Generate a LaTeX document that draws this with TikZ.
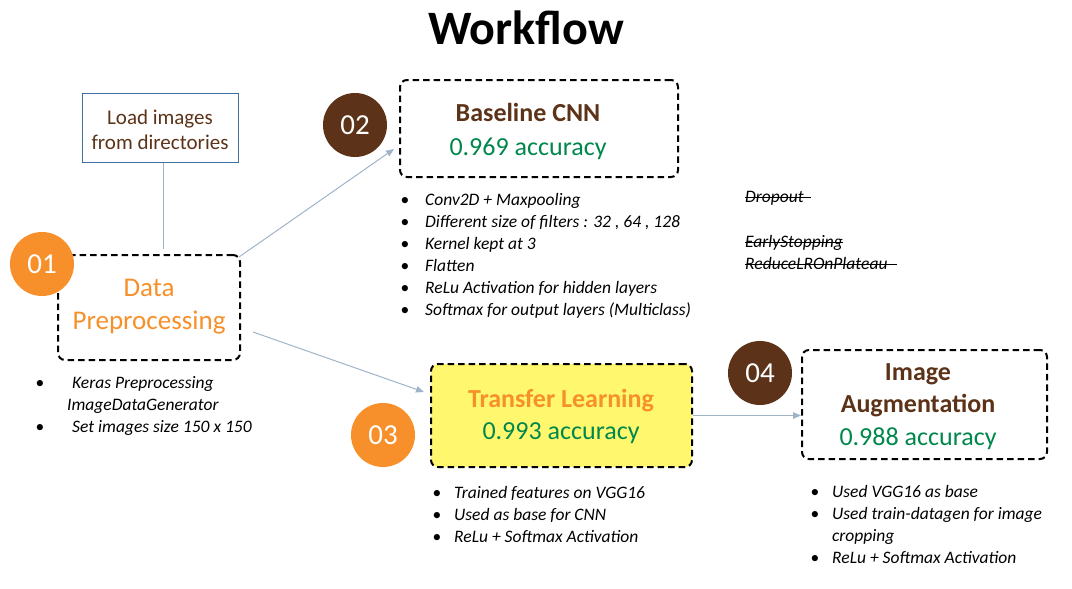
\documentclass[tikz,border=0pt]{standalone}
\usepackage{fontspec}
\setmainfont{Carlito}
\usetikzlibrary{arrows.meta,calc}
\definecolor{wforange}{HTML}{F7902A}
\definecolor{wfbrown}{HTML}{5C3318}
\definecolor{wfgreen}{HTML}{00874C}
\definecolor{wfyellow}{HTML}{FFF86E}
\definecolor{wfconn}{HTML}{A0B4C8}
\definecolor{wfblue}{HTML}{41719C}
\newcommand\bl[1]{\makebox[#1][l]{\upshape •}}
\newlength\wfstw
\newcommand\wfstrike[2][0pt]{\settowidth\wfstw{#2}\addtolength\wfstw{#1}\rlap{\rule[0.24em]{\wfstw}{1.1pt}}#2}
\begin{document}
\begin{tikzpicture}[x=1pt,y=-1pt,
  dbox/.style={draw=black, line width=2pt, dash pattern=on 6.5pt off 4pt, rounded corners=7pt, inner sep=0pt},
  numc/.style={circle, minimum size=64pt, inner sep=0pt, text=white, font=\fontsize{29pt}{29pt}\selectfont},
  boxtxt/.style={align=center, inner sep=0pt},
  conn/.style={draw=wfconn, line width=1pt, -{Triangle[length=8pt,width=6.5pt]}},
  plainline/.style={draw=wfconn, line width=1pt},
  blist/.style={align=left, anchor=base west, inner sep=0pt, font=\fontsize{17.5pt}{22pt}\selectfont\itshape},
]
\useasboundingbox (0,0) rectangle (1072,589);

% title
\node[font=\fontsize{48pt}{48pt}\selectfont\bfseries] (title) at (526,28) {Workflow};

% load box
\node[draw=wfblue, line width=1pt, minimum width=156pt, minimum height=69pt, inner sep=0pt] (load) at (160,127.5) {};
\node[boxtxt, text=wfbrown, font=\fontsize{21pt}{25pt}\selectfont] (loadt) at (160,130) {Load images\\from directories};

% boxes
\node[dbox, minimum width=182pt, minimum height=105pt] (dp) at (149,307.5) {};
\node[boxtxt, text=wforange, font=\fontsize{27pt}{33pt}\selectfont] (dpt) at (149,307) {Data\\Preprocessing};

\node[dbox, minimum width=278pt, minimum height=97pt] (b2) at (539,128.5) {};
\node[boxtxt, font=\fontsize{26pt}{34pt}\selectfont] (b2t) at (528,131.5)
  {{\bfseries\color{wfbrown}Baseline CNN}\\{\color{wfgreen}0.969 accuracy}};

\node[dbox, fill=wfyellow, minimum width=261pt, minimum height=103pt] (b3) at (561.5,415.5) {};
\node[boxtxt, font=\fontsize{26pt}{32pt}\selectfont] (b3t) at (561,416)
  {{\bfseries\color{wforange}Transfer Learning}\\{\color{wfgreen}0.993 accuracy}};

\node[dbox, minimum width=245pt, minimum height=109pt] (b4) at (924.5,404.5) {};
\node[boxtxt, font=\fontsize{26pt}{32.5pt}\selectfont] (b4t) at (918,406.5)
  {{\bfseries\color{wfbrown}Image}\\{\bfseries\color{wfbrown}Augmentation}\\{\color{wfgreen}0.988 accuracy}};

% number circles
\node[numc, fill=wforange] (c1) at (42,264) {01};
\node[numc, fill=wfbrown] (c2) at (355,125) {02};
\node[numc, fill=wforange] (c3) at (383,435) {03};
\node[numc, fill=wfbrown] (c4) at (760,373) {04};

% connectors
\draw[plainline, shorten >=5pt] ([xshift=3.5pt]load.south) -- ([xshift=3.5pt]load.south |- dp.north);
\draw[conn] ([xshift=-2pt,yshift=-3pt]dp.north east) -- ([xshift=-5pt,yshift=-20.5pt]b2.west);
\draw[conn] ([xshift=12pt,yshift=-24.5pt]dp.east) -- ([xshift=-6pt,yshift=23.5pt]b3.west);
\draw[conn] (b3.east) -- (b3.east -| b4.west);

% bullet lists (anchor = baseline of last line)
\node[blist] (l1) at (35.5,432)
  {\bl{36.5pt}Keras Preprocessing\\\hspace*{31.5pt}ImageDataGenerator\\\bl{36.5pt}Set images size 150 x 150};
\node[blist] (l2) at (400.5,315)
  {\bl{24.5pt}Conv2D + Maxpooling\\\bl{24.5pt}Different size of filters : 32 , 64 , 128\\\bl{24.5pt}Kernel kept at 3\\\bl{24.5pt}Flatten\\\bl{24.5pt}ReLu Activation for hidden layers\\\bl{24.5pt}Softmax for output layers (Multiclass)};
\node[blist] (s1) at (745,202.5) {\wfstrike[7pt]{Dropout}};
\node[blist, font=\fontsize{17.5pt}{21.5pt}\selectfont\itshape] (s2) at (745,269) {\wfstrike{EarlyStopping}\\\wfstrike[9pt]{ReduceLROnPlateau}};
\node[blist] (l3) at (432.5,542)
  {\bl{21.5pt}Trained features on VGG16\\\bl{21.5pt}Used as base for CNN\\\bl{21.5pt}ReLu + Softmax Activation};
\node[blist, font=\fontsize{17.5pt}{21.7pt}\selectfont\itshape] (l4) at (810.5,563)
  {\bl{21.5pt}Used VGG16 as base\\\bl{21.5pt}Used train-datagen for image\\\hspace*{21.5pt}cropping\\\bl{21.5pt}ReLu + Softmax Activation};
\end{tikzpicture}
\end{document}
